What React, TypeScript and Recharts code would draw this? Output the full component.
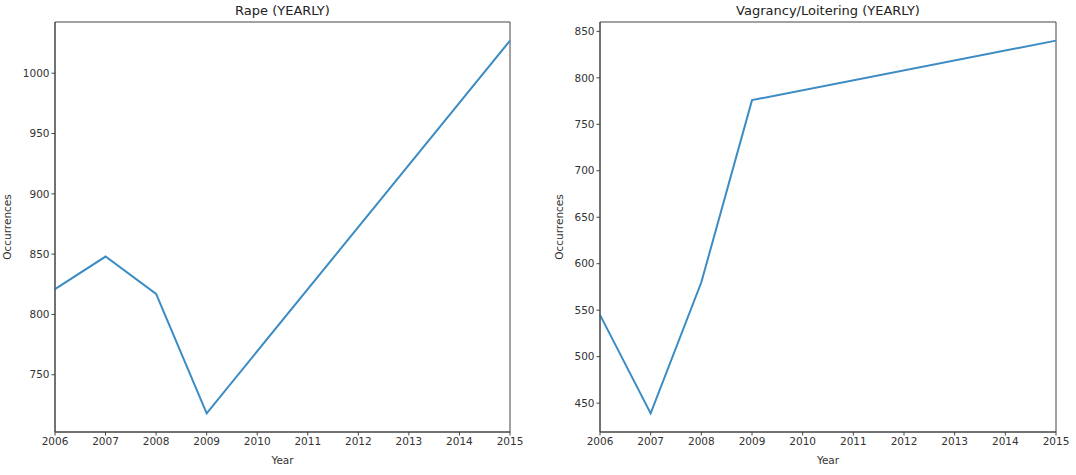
import React from "react";
import { LineChart, Line, XAxis, YAxis, ReferenceArea } from "recharts";

const years = [2006, 2007, 2008, 2009, 2015];
const rapeCounts = [821, 848, 817, 718, 1027];
const vagrancyCounts = [545, 439, 580, 776, 840];
const yearTicks = [2006, 2007, 2008, 2009, 2010, 2011, 2012, 2013, 2014, 2015];
const rapeTicks = [750, 800, 850, 900, 950, 1000];
const vagrancyTicks = [450, 500, 550, 600, 650, 700, 750, 800, 850];

const LINE = "#3b8bc4";
const AXIS = "#444";
const FONT = "'DejaVu Sans', sans-serif";

// matplotlib-like 5% padding on the value axis
const padded = (vals: number[]): [number, number] => {
  const lo = Math.min(...vals);
  const hi = Math.max(...vals);
  const m = (hi - lo) * 0.05;
  return [lo - m, hi + m];
};

const YearChart = ({ title, values, ticks, left, width, axisWidth, marginRight, labelOffset }) => {
  const data = years.map((y, i) => ({ year: y, count: values[i] }));
  const tickStyle = { fontSize: 10.5, fill: "#333", fontFamily: FONT };
  return (
    <div style={{ position: "absolute", left, top: 0, width, height: 475 }}>
      <div
        style={{
          position: "absolute",
          left: axisWidth,
          width: width - axisWidth - marginRight,
          top: 3,
          textAlign: "center",
          fontFamily: FONT,
          fontSize: 13,
          color: "#222",
        }}
      >
        {title}
      </div>
      <LineChart
        width={width}
        height={475}
        data={data}
        margin={{ top: 22, right: marginRight, left: 0, bottom: 13 }}
      >
        <XAxis
          dataKey="year"
          type="number"
          domain={[2006, 2015]}
          ticks={yearTicks}
          allowDecimals={false}
          height={30}
          stroke={AXIS}
          tickSize={3.5}
          tick={tickStyle}
          label={{ value: "Year", position: "insideBottom", offset: -2, fontSize: 10.5, fill: "#333", fontFamily: FONT }}
        />
        <YAxis
          domain={padded(values)}
          ticks={ticks}
          width={axisWidth}
          stroke={AXIS}
          tickSize={3.5}
          tick={tickStyle}
          label={{ value: "Occurrences", angle: -90, position: "insideLeft", offset: labelOffset, fontSize: 10.5, fill: "#333", fontFamily: FONT, style: { textAnchor: "middle" } }}
        />
        {/* closes the frame on the top and right, like matplotlib spines */}
        <ReferenceArea x1={2006} x2={2015} fill="none" stroke={AXIS} strokeOpacity={1} ifOverflow="visible" />
        <Line
          type="linear"
          dataKey="count"
          stroke={LINE}
          strokeWidth={2}
          dot={false}
          isAnimationActive={false}
        />
      </LineChart>
    </div>
  );
};

export default function App() {
  return (
    <div style={{ position: "absolute", left: 0, top: 0, width: 1076, height: 475, background: "#fff" }}>
      <YearChart title="Rape (YEARLY)" values={rapeCounts} ticks={rapeTicks} left={0} width={540} axisWidth={55} marginRight={30} labelOffset={7} />
      <YearChart title="Vagrancy/Loitering (YEARLY)" values={vagrancyCounts} ticks={vagrancyTicks} left={540} width={536} axisWidth={60} marginRight={20} labelOffset={19} />
    </div>
  );
}
